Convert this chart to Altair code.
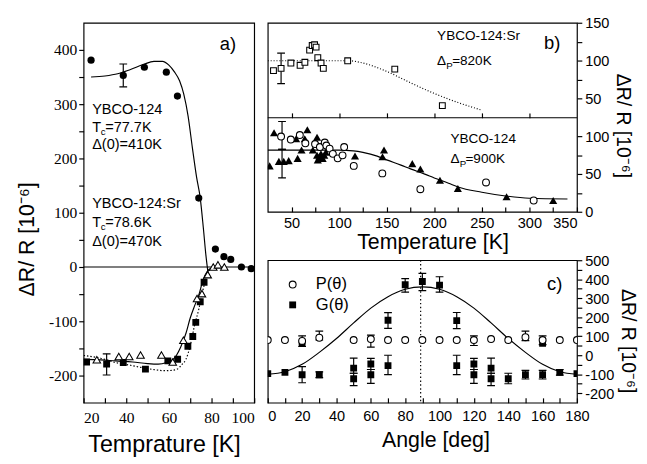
import altair as alt
import pandas as pd

# ---------------- panel a) : dR/R vs temperature ----------------
a_ybco_T = [23.5, 38.6, 48.5, 58.8, 64.0, 74.0, 81.8, 85.8, 89.0, 94.0, 98.6]
a_ybco_v = [381, 353, 368, 359, 315, 127, 33, 19, 14, 0, -3]
a_sr_tri_T = [26.2, 36.5, 41.4, 46.7, 56.5, 61.8, 66.8, 73.2, 75.5, 78.2, 80.8, 83.0, 86.0]
a_sr_tri_v = [-171, -165, -165, -162, -162, -175, -135, -58, -49, -14, 0, 4, 0]
a_sr_sq_T = [21.4, 30.8, 38.6, 49.0, 59.5, 64.1, 68.9, 71.2, 72.6, 74.7, 76.5]
a_sr_sq_v = [-175, -179, -176, -188, -173, -170, -146, -128, -102, -64, -28]
a_err_T = [38.6, 30.8]
a_err_lo = [332, -199]
a_err_hi = [374, -160]
a_fit1_T = [23.5, 30, 36, 42, 48, 53, 57, 60, 62.5, 65, 67, 69, 71, 73, 74.7, 76.2, 77.4, 78.5]
a_fit1_v = [350, 352, 356, 364, 373, 379, 379, 372, 360, 343, 318, 278, 220, 165, 127, 70, 20, -15]
a_fit2_T = [20, 28, 35, 43, 50, 55, 59, 61, 63.5, 65.6, 68, 70, 72, 74, 76, 78, 80, 83]
a_fit2_v = [-170, -171, -173, -175, -178, -179, -176, -173, -163, -147, -122, -94, -72, -52, -24, -8, -2, 0]
a_fit3_T = [20, 28, 35, 42, 47, 53, 58, 62, 64, 66, 68, 70, 72, 74, 76, 78, 80, 84]
a_fit3_v = [-163, -168, -176, -181, -185, -189, -191, -190, -188, -180, -170, -145, -108, -78, -42, -14, -2, 0]

# ---------------- panel b) top : YBCO-124:Sr ----------------
b_sq_T = [31, 39, 49.3, 59, 64, 69, 71.7, 74.2, 75.8, 77.6, 81, 83.4, 109, 158.5, 208.5]
b_sq_v = [87, 90, 97, 94, 98, 114, 120, 121, 118, 104, 97, 90, 100, 89, 41]
b_sq_err_T = [39]
b_sq_err_lo = [70]
b_sq_err_hi = [110]
b_fit_top_T = [25, 50, 75, 100, 110, 125, 150, 175, 200, 225, 250]
b_fit_top_v = [100, 100, 100, 100, 100, 97, 86, 71, 57, 45, 35]

# ---------------- panel b) bottom : YBCO-124 ----------------
b_tri_T = [27, 31.6, 36.7, 41.8, 47, 54.8, 56.4, 60.5, 63.9, 66.6, 72.4, 76.8, 76.8, 77.6, 79.3,
           80.9, 82.7, 84.4, 86, 116.7, 145.6, 147.2, 176.9, 185.4, 206, 224.8, 276, 325]
b_tri_v = [61, 105, 67, 67, 68, 97, 71, 82, 97, 109, 82, 99, 75, 69, 73,
           77, 71, 75, 79, 74, 73, 82, 64, 57, 42, 31, 20, 15]
b_circ_T = [39, 49.2, 58.7, 64.5, 74.7, 79.8, 84.9, 86.6, 90, 93.4, 98.5, 103.6, 105.3,
            115.4, 145.4, 185.4, 254.4, 304.5]
b_circ_v = [100, 96, 102, 91, 90, 86, 92, 88, 84, 77, 71, 75, 86, 61, 51, 30, 39, 15]
b_bot_err_T = [40, 40]
b_bot_err_lo = [83, 45]
b_bot_err_hi = [120, 83]
b_fit_bot_T = [25, 50, 100, 115, 125, 140, 150, 165, 175, 190, 200, 215, 225, 250, 275, 300, 340]
b_fit_bot_v = [82, 82, 82, 81, 79, 74, 69, 62, 57, 50, 45, 38, 33, 26, 21, 18, 17]

# ---------------- panel c) : angle dependence ----------------
c_P_ang = [0, 10, 20, 30, 50, 60, 70, 80, 90, 100, 110, 120, 130, 140, 150, 160, 170, 180]
c_P_val = [80, 80, 75, 92, 80, 85, 80, 80, 80, 80, 80, 80, 85, 80, 95, 80, 80, 80]
c_P_err_ang = [20, 30, 60, 120, 150, 160]
c_P_err_lo = [46, 80, 43, 51, 77, 56]
c_P_err_hi = [102, 127, 106, 102, 127, 102]
c_G_ang = [0, 10, 20, 20, 30, 50, 50, 60, 60, 70, 70, 80, 90, 100, 110, 110, 120, 120,
           130, 130, 140, 150, 160, 160, 170, 180]
c_G_val = [-97, -90, -103, 62, -103, -68, -124, -46, -103, 184, -55, 371, 388, 369, 182, -55, -46, -103,
           -68, -124, -124, -103, -103, 62, -90, -97]
c_G_err_ang = [20, 30, 50, 50, 60, 60, 70, 70, 80, 90, 100, 110, 110, 120, 120, 130, 130, 140, 150, 160, 170]
c_G_err_lo = [-145, -118, -95, -160, -75, -148, 141, -102, 332, 340, 332, 140, -102, -75, -148, -95, -160, -150, -125, -125, -105]
c_G_err_hi = [-60, -88, -15, -95, -17, -75, 224, 0, 403, 431, 413, 225, 0, -17, -75, -15, -95, -95, -80, -80, -75]
c_fit_ang = [0, 10, 20, 30, 40, 50, 60, 70, 80, 90, 100, 110, 120, 130, 140, 150, 160, 170, 180]
c_fit_val = [-100, -87, -48, 15, 88, 170, 248, 308, 347, 360, 347, 308, 248, 170, 88, 15, -48, -87, -100]
c_series = ["P(θ)", "G(θ)"]

SANS = "Liberation Sans"
SERIF = "Liberation Serif"
ONE = alt.Data(values=[{}])
LW = 1.2


def ax(**kw):
    base = dict(grid=False, domain=False, tickColor="black", tickWidth=LW, tickSize=5,
                labelColor="black", titleColor="black", titleFont=SANS,
                titleFontWeight="normal", labelFont=SANS, labelFontSize=15,
                labelOverlap=False)
    base.update(kw)
    return alt.Axis(**base)


def every(step):
    return f"datum.value % {step} == 0 ? '' + datum.value : ''"


def enc(channel, scale, axis):
    """Return an encoder accepting a field name or a datum number, always with the same scale/axis."""
    def f(v):
        if isinstance(v, str):
            cls = alt.X if channel == "x" else alt.Y
            return cls(v, type="quantitative", scale=scale, axis=axis)
        cls = alt.XDatum if channel == "x" else alt.YDatum
        return cls(v, type="quantitative", scale=scale, axis=axis)
    return f


# ---- encodings ----
xa = enc("x", alt.Scale(domain=[20, 100], nice=False),
         ax(values=list(range(20, 101, 10)), labelExpr=every(20),
            title="Temprature [K]", titleFontSize=24, labelFont=SERIF, titleX=83,
            labelFontSize=16, offset=-5, labelPadding=7, titlePadding=8))
ya = enc("y", alt.Scale(domain=[-250, 450], nice=False),
         ax(values=list(range(-200, 401, 50)), labelExpr=every(100),
            title="ΔR/ R [10⁻⁶]", titleFontSize=22, labelFont=SERIF,
            labelFontSize=16, labelPadding=2, titlePadding=10, titleY=223))

# panel b is one view, height 195: top half (25..150) and bottom half (0..125)
B_H = 195
B_TOP_DOM = [150 - B_H * 125 / 98, 150]
B_BOT_DOM = [0, 125 * B_H / 97]

xb_top = enc("x", alt.Scale(domain=[25, 350], nice=False),
             ax(orient="bottom", values=list(range(50, 301, 50)), labels=False,
                title=None, offset=-(97 + 5)))
xb_bot = enc("x", alt.Scale(domain=[25, 350], nice=False),
             ax(orient="bottom", values=list(range(50, 351, 25)), labelExpr=every(50),
                title="Temperature [K]", titleFontSize=22, offset=-5, titleX=170,
                labelPadding=4, titlePadding=2))
yb_top = enc("y", alt.Scale(domain=B_TOP_DOM, nice=False, zero=False),
             ax(orient="right", values=[50, 75, 100, 125, 150], labelExpr=every(50),
                title=None, labelPadding=3))
yb_bot = enc("y", alt.Scale(domain=B_BOT_DOM, nice=False),
             ax(orient="right", values=[0, 25, 50, 75, 100], labelExpr=every(50),
                title="ΔR/ R [10⁻⁶]", titleFontSize=20, titleY=106, labelPadding=3,
                titlePadding=4))

xc = enc("x", alt.Scale(domain=[0, 180], nice=False),
         ax(values=list(range(0, 181, 10)), labelExpr=every(20),
            title="Angle [deg]", titleFontSize=22, offset=-5, labelPadding=6,
            titlePadding=7, titleX=173,
            labelAlign={"condition": {"test": "datum.value == 0", "value": "left"},
                        "value": "center"}))
yc = enc("y", alt.Scale(domain=[-250, 500], nice=False),
         ax(orient="right", values=list(range(-200, 501, 50)), labelExpr=every(100),
            title="ΔR/ R [10⁻⁶]", titleFontSize=20, titleY=83, labelPadding=3,
            titlePadding=4))


# ---- helpers ----
def pts(x, y, X, Y, **mk):
    d = pd.DataFrame({"x": x, "y": y})
    return alt.Chart(d).mark_point(opacity=1, clip=True, **mk).encode(x=X("x"), y=Y("y"))


def line(x, y, X, Y, dash=None):
    d = pd.DataFrame({"x": x, "y": y})
    kw = dict(color="black", strokeWidth=LW, interpolate="monotone", clip=True)
    if dash:
        kw["strokeDash"] = dash
    return alt.Chart(d).mark_line(**kw).encode(x=X("x"), y=Y("y"))


def errbars(x, lo, hi, X, Y, cap=8):
    d = pd.DataFrame({"x": x, "lo": lo, "hi": hi})
    b = alt.Chart(d)
    r = b.mark_rule(color="black", strokeWidth=LW, clip=True).encode(x=X("x"), y=Y("lo"), y2="hi")
    c1 = b.mark_point(shape="M-1,0L1,0", size=cap * cap, color="black", strokeWidth=LW,
                      opacity=1, filled=False, clip=True).encode(x=X("x"), y=Y("lo"))
    c2 = b.mark_point(shape="M-1,0L1,0", size=cap * cap, color="black", strokeWidth=LW,
                      opacity=1, filled=False, clip=True).encode(x=X("x"), y=Y("hi"))
    return [r, c1, c2]


def txt(s, x, y, X, Y, size=15, dx=0, dy=0, align="left"):
    return alt.Chart(ONE).mark_text(text=s, align=align, baseline="middle", font=SANS,
                                    fontSize=size, color="black", dx=dx, dy=dy).encode(
        x=X(x), y=Y(y))


def subtxt(main, sub, rest, x, y, X, Y, w_main, w_sub, size=15):
    return [txt(main, x, y, X, Y, size),
            txt(sub, x, y, X, Y, 10, dx=w_main, dy=5),
            txt(rest, x, y, X, Y, size, dx=w_main + w_sub)]


def sym(x, y, X, Y, **mk):
    return alt.Chart(ONE).mark_point(opacity=1, **mk).encode(x=X(x), y=Y(y))


filled_circle = dict(shape="circle", filled=True, color="black", size=55)
filled_square = dict(shape="square", filled=True, color="black", size=50)
open_tri = dict(shape="triangle-up", filled=True, fill="white", stroke="black", strokeWidth=1.1, size=60)
open_square = dict(shape="square", filled=True, fill="white", stroke="black", strokeWidth=1.1, size=36)
open_circle = dict(shape="circle", filled=True, fill="white", stroke="black", strokeWidth=1.1, size=50)
filled_tri = dict(shape="triangle-up", filled=True, color="black", size=70)

# ---------------- build panel a ----------------
zero_a = alt.Chart(ONE).mark_rule(color="black", strokeWidth=LW).encode(y=ya(0))
panel_a = alt.layer(
    line(a_fit1_T, a_fit1_v, xa, ya),
    zero_a,
    line(a_fit2_T, a_fit2_v, xa, ya),
    line(a_fit3_T, a_fit3_v, xa, ya, dash=[1.5, 2]),
    *errbars(a_err_T, a_err_lo, a_err_hi, xa, ya),
    pts(a_ybco_T, a_ybco_v, xa, ya, **filled_circle),
    pts(a_sr_sq_T, a_sr_sq_v, xa, ya, **filled_square),
    pts(a_sr_tri_T, a_sr_tri_v, xa, ya, **open_tri),
    txt("a)", 91.5, 410, xa, ya, size=19, align="right"),
    txt("YBCO-124", 24, 291, xa, ya),
    *subtxt("T", "c", "=77.7K", 24, 258, xa, ya, 9, 4.5),
    txt("Δ(0)=410K", 24, 226, xa, ya),
    txt("YBCO-124:Sr", 24, 117, xa, ya),
    *subtxt("T", "c", "=78.6K", 24, 83, xa, ya, 9, 4.5),
    txt("Δ(0)=470K", 24, 48, xa, ya),
).properties(width=176, height=392)

# ---------------- build panel b (two stacked halves in one view) ----------------
b_top_layers = alt.layer(
    line(b_fit_top_T, b_fit_top_v, xb_top, yb_top, dash=[1, 2]),
    *errbars(b_sq_err_T, b_sq_err_lo, b_sq_err_hi, xb_top, yb_top),
    pts(b_sq_T, b_sq_v, xb_top, yb_top, **open_square),
    txt("YBCO-124:Sr", 203, 133, xb_top, yb_top, size=14),
    *subtxt("Δ", "P", "=820K", 203, 99, xb_top, yb_top, 9.5, 6, size=14),
    txt("b)", 332.5, 123, xb_top, yb_top, size=19, align="right"),
)
divider = alt.Chart(ONE).mark_rule(color="black", strokeWidth=LW).encode(y=yb_bot(125))
b_bot_layers = alt.layer(
    line(b_fit_bot_T, b_fit_bot_v, xb_bot, yb_bot),
    divider,
    *errbars(b_bot_err_T, b_bot_err_lo, b_bot_err_hi, xb_bot, yb_bot),
    pts(b_tri_T, b_tri_v, xb_bot, yb_bot, **filled_tri),
    pts(b_circ_T, b_circ_v, xb_bot, yb_bot, **open_circle),
    txt("YBCO-124", 217, 96, xb_bot, yb_bot, size=14),
    *subtxt("Δ", "P", "=900K", 217, 70, xb_bot, yb_bot, 9.5, 6, size=14),
)
panel_b = alt.layer(b_top_layers, b_bot_layers).resolve_scale(y="independent").resolve_axis(
    x="independent", y="independent").properties(width=319, height=B_H)

# ---------------- build panel c ----------------
vline_c = alt.Chart(ONE).mark_rule(color="black", strokeWidth=LW, strokeDash=[1.5, 2.5]).encode(
    x=xc(89))
panel_c = alt.layer(
    line(c_fit_ang, c_fit_val, xc, yc),
    vline_c,
    *errbars(c_G_err_ang, c_G_err_lo, c_G_err_hi, xc, yc),
    *errbars(c_P_err_ang, c_P_err_lo, c_P_err_hi, xc, yc),
    pts(c_G_ang, c_G_val, xc, yc, **filled_square),
    pts(c_P_ang, c_P_val, xc, yc, **open_circle),
    # legend
    sym(14.5, 372, xc, yc, **open_circle),
    sym(14.5, 265, xc, yc, **filled_square),
    txt(c_series[0], 28, 372, xc, yc, size=17),
    txt(c_series[1], 28, 265, xc, yc, size=17),
    txt("c)", 171.5, 372, xc, yc, size=19, align="right"),
).properties(width=319, height=147)

right_col = alt.vconcat(panel_b, panel_c, spacing=50, bounds="flush")

chart = alt.hconcat(panel_a, right_col, spacing=14, bounds="flush").properties(
    padding={"left": 8, "top": 0, "right": 1, "bottom": 0}, background="white"
).configure_view(stroke="black", strokeWidth=LW).configure_axis(labelOverlap=False)

chart.save("out.html", embed_options={"renderer": "svg", "actions": False})
